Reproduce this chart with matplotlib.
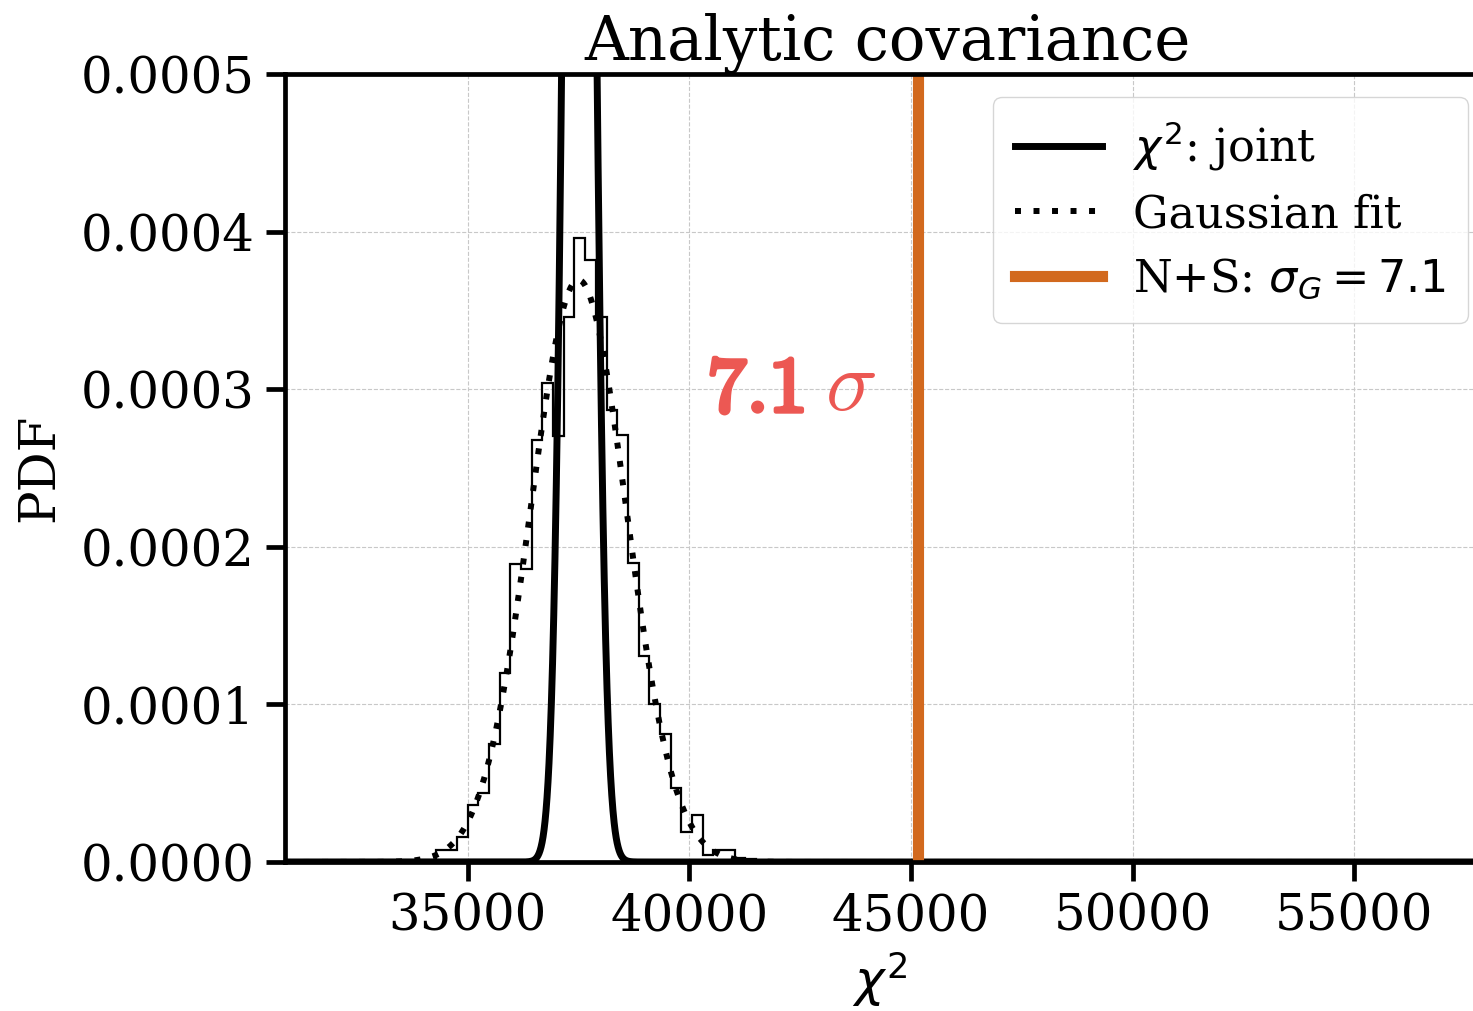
import math
import numpy as np
import matplotlib
matplotlib.use('Agg')
import matplotlib.pyplot as plt
import matplotlib.patheffects as pe
from matplotlib.ticker import FormatStrFormatter

plt.rcParams['font.family'] = 'serif'
plt.rcParams['font.serif'] = ['DejaVu Serif']

# histogram of simulated chi2 values
bin_edges = [34277, 34518, 34759, 35000, 35241, 35482, 35723, 35964, 36205, 36446,
             36687, 36928, 37169, 37410, 37651, 37892, 38133, 38374, 38615, 38856,
             39097, 39338, 39579, 39820, 40061, 40302, 40543, 40784, 41025, 41266, 41507]
bin_pdf = [7.6e-6, 7.6e-6, 1.6e-5, 3.6e-5, 4.4e-5, 7.5e-5, 1.20e-4, 1.89e-4, 1.86e-4, 2.68e-4,
           3.04e-4, 2.70e-4, 3.46e-4, 3.96e-4, 3.82e-4, 3.46e-4, 2.87e-4, 2.71e-4, 1.90e-4, 1.31e-4,
           1.00e-4, 8.1e-5, 4.7e-5, 1.9e-5, 3.0e-5, 4.4e-6, 7.6e-6, 7.6e-6, 2.3e-6, 1.9e-6]

# model parameters
gauss_mean = 37500.
gauss_sigma = 1080.
chi2_dof = 37520
chi2_obs = 45150.
sigma_G = 7.1

xlim = (30880, 57680)
xticks = [35000, 40000, 45000, 50000, 55000]
yticks = [0.0, 0.0001, 0.0002, 0.0003, 0.0004, 0.0005]

fig = plt.figure(figsize=(14.73, 10.11), dpi=100)
ax = fig.add_axes([0.1935, 0.1474, 0.8065, 0.7794])

xx = np.linspace(xlim[0], xlim[1], 6000)
k = chi2_dof
logp = (k / 2 - 1) * np.log(xx) - xx / 2 - (k / 2) * math.log(2) - math.lgamma(k / 2)
chi2_pdf = np.exp(logp)
gauss = np.exp(-0.5 * ((xx - gauss_mean) / gauss_sigma) ** 2) / (np.sqrt(2 * np.pi) * gauss_sigma)

ax.stairs(bin_pdf, bin_edges, color='black', lw=1.6)
ax.plot(xx, chi2_pdf, color='black', lw=5, label=r'$\chi^2$: joint')
ax.plot(xx, gauss, color='black', lw=4.3, linestyle=(0, (1, 2.1)), label='Gaussian fit')
ax.axvline(chi2_obs, color='chocolate', lw=8, label=r'N+S: $\sigma_G = %.1f$' % sigma_G)

red = '#EC5853'
# bold digits (stroked to look heavier) followed by a plain sigma
t_num = ax.text(40400, 2.755e-4, r'$\mathbf{%.1f}$' % sigma_G, color=red,
                fontsize=57, math_fontfamily='cm', ha='left', va='bottom',
                path_effects=[pe.withStroke(linewidth=3.2, foreground=red)])
ax.annotate(r'$\sigma$', xy=(1, 0), xycoords=t_num, xytext=(15, 0),
            textcoords='offset points', color=red, fontsize=62,
            math_fontfamily='cm', ha='left', va='bottom')

ax.set_xlim(xlim)
ax.set_ylim(0, 0.0005)
ax.set_xticks(xticks)
ax.set_yticks(yticks)
ax.yaxis.set_major_formatter(FormatStrFormatter('%.4f'))
ax.grid(True, ls='--', color='#c8c8c8', lw=0.8)
ax.set_axisbelow(True)

for s in ['left', 'top', 'bottom']:
    ax.spines[s].set_linewidth(3.4)
ax.spines['right'].set_visible(False)
ax.tick_params(axis='both', which='major', length=14, width=3.4, labelsize=35.8, pad=8)

ax.set_xlabel(r'$\chi^2$', fontsize=36, labelpad=6)
ax.set_ylabel('PDF', fontsize=36, labelpad=12)
ax.set_title('Analytic covariance', fontsize=43.8, pad=4, x=0.507)

leg = ax.legend(loc='upper right', fontsize=32, handlelength=1.95, handletextpad=0.7,
                labelspacing=0.45, borderpad=0.5, framealpha=0.8, edgecolor='#cccccc',
                borderaxespad=0, bbox_to_anchor=(0.9958, 0.9708))

fig.savefig('out.png', dpi=100)
